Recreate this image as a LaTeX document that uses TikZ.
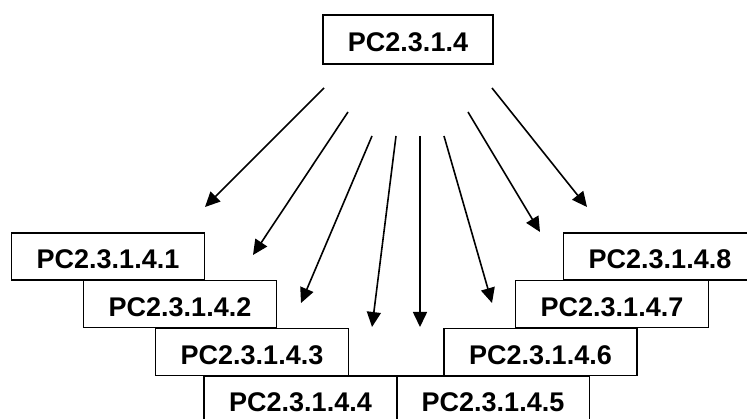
\documentclass[tikz,border=0pt]{standalone}
\usepackage{fontspec}
\setmainfont{Liberation Sans}
\usetikzlibrary{arrows.meta}
\tikzset{
  pcbox/.style={draw, line width=1.5pt, minimum width=193pt, minimum height=47pt,
    inner sep=0pt, text height=25pt, text depth=0pt,
    font=\fontsize{27}{31}\selectfont\bfseries},
  pcarrow/.style={line width=1.6pt, -{Triangle[length=15pt,width=14pt]}}
}
\begin{document}
\begin{tikzpicture}[x=1pt,y=-1pt]
  \useasboundingbox (0,0) rectangle (747,419);
  \clip (0,0) rectangle (747,419);
  % parent
  \node[pcbox, minimum width=170pt, minimum height=49pt] (p) at (408,39.5) {PC2.3.1.4};
  % children, stepping down towards the middle
  \node[pcbox] (c1) at (108,256.5) {PC2.3.1.4.1};
  \node[pcbox] (c2) at (180,304) {PC2.3.1.4.2};
  \node[pcbox] (c3) at (252,352) {PC2.3.1.4.3};
  \node[pcbox] (c4) at (300.5,399.5) {PC2.3.1.4.4};
  \node[pcbox] (c5) at (493,399.5) {PC2.3.1.4.5};
  \node[pcbox] (c6) at (540.5,352) {PC2.3.1.4.6};
  \node[pcbox] (c7) at (612,304) {PC2.3.1.4.7};
  \node[pcbox] (c8) at (660,256.5) {PC2.3.1.4.8};
  % arrow ends
  \coordinate (s1) at (324,88);  \coordinate (t1) at (205,207);
  \coordinate (s2) at (348,112); \coordinate (t2) at (253,255);
  \coordinate (s3) at (372,136); \coordinate (t3) at (301,303);
  \coordinate (s4) at (396,136); \coordinate (t4) at (372,327);
  \coordinate (s5) at (420,136); \coordinate (t5) at (420,327);
  \coordinate (s6) at (444,136); \coordinate (t6) at (492,303);
  \coordinate (s7) at (468,112); \coordinate (t7) at (540,232);
  \coordinate (s8) at (492,88);  \coordinate (t8) at (587,207);
  \foreach \i in {1,...,8}
    \draw[pcarrow] (s\i) -- (t\i);
\end{tikzpicture}
\end{document}
